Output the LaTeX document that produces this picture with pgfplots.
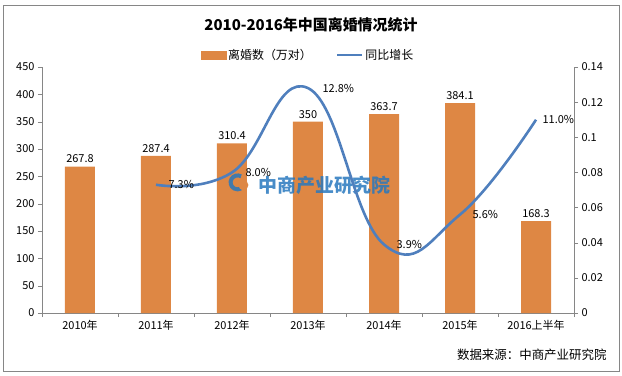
\documentclass[border=0pt]{standalone}
\usepackage{pgfplots}
\pgfplotsset{compat=1.18}
\usepackage{fontspec}
\setmainfont{Noto Sans CJK SC}
\definecolor{barorange}{RGB}{222,135,68}
\definecolor{lineblue}{RGB}{79,127,189}
\definecolor{axgray}{RGB}{134,134,134}
\definecolor{wmblue}{RGB}{40,120,190}
\begin{document}
\begin{tikzpicture}
\pgfplotsset{
 base/.style={scale only axis, width=532bp, height=246bp, xmin=-0.5, xmax=6.5,
  tick label style={font=\fontsize{11}{13}\selectfont, text=black},
  /pgf/number format/assume math mode=true,
  axis line style={axgray}, tick style={axgray}, tick align=outside,
  major tick length=4bp, minor tick length=4bp, clip=false}
}
\begin{axis}[base, axis x line*=bottom, axis y line*=left,
  ymin=0, ymax=450, ytick={0,50,100,150,200,250,300,350,400,450},
  xtick={0,1,2,3,4,5,6},
  xticklabels={2010年,2011年,2012年,2013年,2014年,2015年,2016上半年},
  major x tick style={draw=none},
  minor xtick={-0.5,0.5,1.5,2.5,3.5,4.5,5.5,6.5},
  ybar, bar width=30bp,
  nodes near coords,
  every node near coord/.append style={font=\fontsize{11}{13}\selectfont, text=black, /pgf/number format/assume math mode=true}]
\addplot[fill=barorange, draw=none] coordinates {(0,267.8) (1,287.4) (2,310.4) (3,350) (4,363.7) (5,384.1) (6,168.3)};
% frame
\draw[axgray, line width=0.8bp] (rel axis cs:-0.0733,-0.2358) rectangle (rel axis cs:1.0846,1.252);
\path (rel axis cs:-0.0789,-0.252) rectangle (rel axis cs:1.0902,1.2724);
\node[font=\fontsize{15}{17}\selectfont\bfseries] at (rel axis cs:0.5056,1.1707) {2010-2016年中国离婚情况统计};
\node[font=\fontsize{12.5}{15}\selectfont, anchor=east] at (rel axis cs:1.0677,-0.1707) {数据来源：中商产业研究院};
% watermark
\node[font=\fontsize{19}{21}\selectfont\bfseries, text=wmblue, opacity=0.85, anchor=west] at (axis cs:2.3,234) {中商产业研究院};
\draw[wmblue, line width=4bp, opacity=0.85] (axis cs:2.12,250) arc[start angle=60, end angle=300, radius=7bp];
\fill[barorange] (axis cs:2.15,234) circle[radius=5bp];
\end{axis}
\begin{axis}[base, axis x line=none, axis y line*=right,
  ymin=0, ymax=0.14, ytick={0,0.02,0.04,0.06,0.08,0.1,0.12,0.14},
  yticklabel style={/pgf/number format/fixed, /pgf/number format/precision=2},
  legend style={at={(0.5,1.049)}, anchor=center, legend columns=2, draw=none, fill=none,
    font=\fontsize{12}{14}\selectfont, /tikz/every even column/.append style={column sep=22bp}},
  ]
\addlegendimage{legend image code/.code={\fill[barorange] (0bp,-4bp) rectangle (25bp,4bp);}}
\addlegendentry{离婚数（万对）}
\addplot[lineblue, line width=2.6bp, smooth, tension=0.75, mark=none,
  nodes near coords, point meta=explicit symbolic,
  visualization depends on={\thisrow{dx} \as \dx},
  every node near coord/.style={anchor=west, xshift=\dx bp, font=\fontsize{11}{13}\selectfont, text=black},
  legend image code/.code={\draw[lineblue, line width=2.6bp] (0bp,0bp) -- (25bp,0bp);}]
  table[x=x, y=y, meta=lab] {
x y lab dx
1 0.073 7.3\% 8
2 0.080 8.0\% 9
3 0.128 12.8\% 10
4 0.039 3.9\% 8
5 0.056 5.6\% 8
6 0.110 11.0\% 2
};
\addlegendentry{同比增长}
\end{axis}
\end{tikzpicture}
\end{document}
